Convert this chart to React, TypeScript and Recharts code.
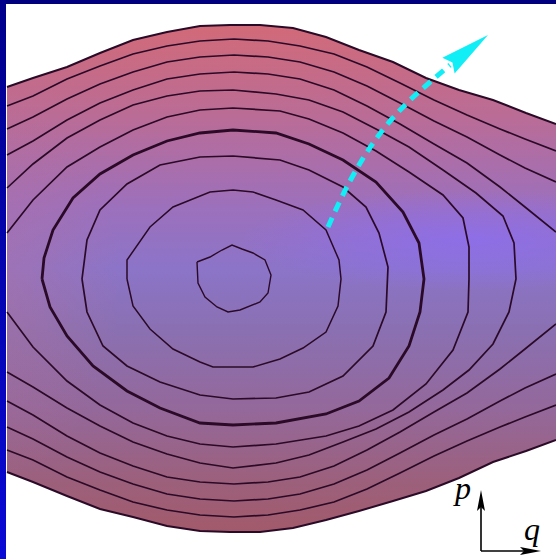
import { ComposedChart, Area, Line, Scatter, XAxis, YAxis } from 'recharts';

// phase-plane coordinates: q across, p up
const edgeQ = [-2.27, -2.01, -1.67, -1.34, -1.01, -0.67, -0.34, -0.04, 0.26, 0.59, 0.92, 1.25, 1.59, 1.92, 2.25, 2.59, 2.92, 3.22];
const edgeTop = [1.91, 2.0, 2.11, 2.25, 2.38, 2.46, 2.52, 2.53, 2.53, 2.5, 2.41, 2.28, 2.16, 2.0, 1.88, 1.78, 1.65, 1.54];
const edgeBottom = [-1.94, -2.04, -2.18, -2.31, -2.39, -2.48, -2.53, -2.54, -2.54, -2.5, -2.42, -2.33, -2.23, -2.13, -2.0, -1.84, -1.73, -1.62];

// outer orbits that leave through both sides
const openQ = [-2.27, -2.01, -1.67, -1.34, -1.01, -0.67, -0.34, 0, 0.34, 0.66, 1.0, 1.33, 1.66, 2.0, 2.33, 2.66, 2.91, 3.22];
const orbit2 = [1.72, 1.82, 1.99, 2.12, 2.24, 2.32, 2.37, 2.39, 2.37, 2.32, 2.24, 2.11, 1.95, 1.78, 1.63, 1.49, 1.39, 1.27];
const orbit3 = [1.49, 1.61, 1.79, 1.94, 2.06, 2.16, 2.21, 2.23, 2.21, 2.16, 2.06, 1.92, 1.75, 1.57, 1.41, 1.23, 1.1, 0.96];
const orbit4 = [1.23, 1.37, 1.58, 1.75, 1.88, 1.99, 2.04, 2.06, 2.04, 1.99, 1.88, 1.72, 1.54, 1.34, 1.15, 0.91, 0.71, 0.46];

// orbits cut by the left edge only
const orbit5 = [
  [-2.27, 0.9], [-2.01, 1.14], [-1.67, 1.4], [-1.34, 1.58], [-1.01, 1.73], [-0.67, 1.82], [-0.34, 1.87], [-0.01, 1.88],
  [0.42, 1.84], [0.75, 1.78], [1.09, 1.66], [1.42, 1.49], [1.75, 1.31], [2.09, 1.08], [2.42, 0.85], [2.69, 0.62],
  [2.8, 0.35], [2.82, -0.01], [2.75, -0.34], [2.59, -0.66], [2.35, -0.92], [2.09, -1.12], [1.75, -1.34], [1.42, -1.51],
  [1.09, -1.64], [0.75, -1.77], [0.42, -1.85], [-0.01, -1.9], [-0.34, -1.85], [-0.67, -1.76], [-1.01, -1.64],
  [-1.34, -1.48], [-1.67, -1.3], [-2.01, -1.09], [-2.27, -0.94],
];
const orbit6 = [
  [-2.27, 0.45], [-2.01, 0.78], [-1.67, 1.11], [-1.34, 1.31], [-1.01, 1.48], [-0.67, 1.61], [-0.34, 1.68], [-0.01, 1.7],
  [0.46, 1.67], [0.75, 1.59], [1.09, 1.45], [1.42, 1.27], [1.75, 1.06], [2.09, 0.83], [2.29, 0.6], [2.35, 0.31],
  [2.35, -0.01], [2.34, -0.34], [2.19, -0.72], [1.92, -1.06], [1.59, -1.32], [1.25, -1.48], [0.92, -1.58], [0.42, -1.66],
  [-0.01, -1.69], [-0.34, -1.66], [-0.67, -1.58], [-1.01, -1.45], [-1.34, -1.27], [-1.67, -1.03], [-2.01, -0.69], [-2.27, -0.34],
];

// closed orbits around the centre
const orbit7 = [
  [-1.92, -0.01], [-1.9, 0.2], [-1.81, 0.48], [-1.61, 0.8], [-1.34, 1.04], [-1.01, 1.23], [-0.67, 1.37], [-0.34, 1.45],
  [-0.01, 1.48], [0.42, 1.45], [0.75, 1.34], [1.09, 1.18], [1.42, 0.96], [1.69, 0.66], [1.85, 0.35], [1.9, -0.01],
  [1.86, -0.34], [1.75, -0.68], [1.55, -1.0], [1.25, -1.23], [0.92, -1.36], [0.42, -1.45], [-0.01, -1.47], [-0.34, -1.45],
  [-0.74, -1.3], [-1.07, -1.13], [-1.41, -0.88], [-1.67, -0.58], [-1.84, -0.29], [-1.92, -0.01],
];
const orbit8 = [
  [-1.52, -0.01], [-1.47, 0.38], [-1.34, 0.68], [-1.07, 0.94], [-0.74, 1.13], [-0.34, 1.21], [-0.01, 1.22], [0.46, 1.18],
  [0.75, 1.08], [1.09, 0.91], [1.32, 0.71], [1.45, 0.45], [1.54, 0.11], [1.52, -0.34], [1.39, -0.68], [1.09, -0.98],
  [0.75, -1.14], [0.42, -1.2], [-0.01, -1.21], [-0.34, -1.17], [-0.74, -1.04], [-1.07, -0.88], [-1.31, -0.68],
  [-1.47, -0.34], [-1.52, -0.01],
];
const orbit9 = [
  [-1.07, -0.01], [-1.01, -0.28], [-0.84, -0.51], [-0.61, -0.71], [-0.34, -0.84], [-0.21, -0.89], [0.19, -0.89],
  [0.46, -0.81], [0.69, -0.7], [0.92, -0.54], [1.04, -0.28], [1.07, -0.01], [1.05, 0.18], [0.92, 0.48], [0.69, 0.68],
  [0.42, 0.78], [0.19, 0.86], [-0.01, 0.88], [-0.24, 0.86], [-0.61, 0.71], [-0.84, 0.51], [-1.07, 0.18], [-1.07, -0.01],
];
const orbit10 = [
  [-0.37, 0.16], [-0.36, -0.05], [-0.29, -0.19], [-0.17, -0.29], [-0.06, -0.34], [0.06, -0.32], [0.26, -0.24],
  [0.34, -0.15], [0.37, 0.03], [0.31, 0.18], [0.19, 0.25], [0.08, 0.29], [-0.02, 0.33], [-0.12, 0.28], [-0.24, 0.21],
  [-0.37, 0.16],
];

// escape direction
const arrowPath = [
  [0.94, 0.51], [1.04, 0.73], [1.16, 0.97], [1.28, 1.18], [1.42, 1.39], [1.57, 1.58], [1.72, 1.74], [1.87, 1.88],
  [2.02, 2.01], [2.16, 2.13],
];
const arrowTip = [[2.54, 2.43]];

const pts = (a: number[][]) => a.map(([q, p]) => ({ q, p }));
const row = (ps: number[], sign = 1) => openQ.map((q, i) => ({ q, p: sign * ps[i] }));

const bandData = edgeQ.map((q, i) => ({ q, band: [edgeBottom[i], edgeTop[i]] }));
const topEdge = edgeQ.map((q, i) => ({ q, p: edgeTop[i] }));
const bottomEdge = edgeQ.map((q, i) => ({ q, p: edgeBottom[i] }));

const INK = '#2a0a26';

const ArrowHead = (props: any) => {
  const { cx, cy } = props;
  return (
    <polygon
      points="0,0 -50,-10 -45,0 -50,10"
      transform={`translate(${cx},${cy}) rotate(-37.8)`}
      fill="#12eef6"
    />
  );
};

const curves: { key: string; data: { q: number; p: number }[]; width: number }[] = [
  { key: 'edgeTop', data: topEdge, width: 2 },
  { key: 'edgeBottom', data: bottomEdge, width: 2 },
  { key: 'o2t', data: row(orbit2), width: 1.7 },
  { key: 'o2b', data: row(orbit2, -1), width: 1.7 },
  { key: 'o3t', data: row(orbit3), width: 1.7 },
  { key: 'o3b', data: row(orbit3, -1), width: 1.7 },
  { key: 'o4t', data: row(orbit4), width: 1.7 },
  { key: 'o4b', data: row(orbit4, -1), width: 1.7 },
  { key: 'o5', data: pts(orbit5), width: 1.7 },
  { key: 'o6', data: pts(orbit6), width: 1.7 },
  { key: 'o7', data: pts(orbit7), width: 2.8 },
  { key: 'o8', data: pts(orbit8), width: 1.7 },
  { key: 'o9', data: pts(orbit9), width: 1.5 },
  { key: 'o10', data: pts(orbit10), width: 1.4 },
];

export default function App() {
  return (
    <div style={{ position: 'absolute', left: 0, top: 0, width: 556, height: 559, background: '#fff', overflow: 'hidden' }}>
      <ComposedChart width={556} height={559} data={bandData} margin={{ top: 0, right: 0, bottom: 0, left: 0 }}>
        <defs>
          <linearGradient id="energy" x1="0" y1="0" x2="0" y2="1">
            <stop offset="0%" stopColor="#d26a78" />
            <stop offset="18%" stopColor="#ba6c96" />
            <stop offset="36%" stopColor="#9c70bc" />
            <stop offset="48%" stopColor="#8c74c8" />
            <stop offset="60%" stopColor="#8a70b2" />
            <stop offset="76%" stopColor="#94689a" />
            <stop offset="90%" stopColor="#9c607c" />
            <stop offset="100%" stopColor="#a25a6a" />
          </linearGradient>
          <radialGradient
            id="glow"
            gradientUnits="userSpaceOnUse"
            cx={470}
            cy={240}
            r={230}
            gradientTransform="translate(470 240) scale(1 0.22) translate(-470 -240)"
          >
            <stop offset="0%" stopColor="#8a6cff" stopOpacity={0.6} />
            <stop offset="55%" stopColor="#8a6cff" stopOpacity={0.3} />
            <stop offset="100%" stopColor="#8a6cff" stopOpacity={0} />
          </radialGradient>
          <radialGradient
            id="rim"
            gradientUnits="userSpaceOnUse"
            cx={0}
            cy={285}
            r={120}
            gradientTransform="translate(0 285) scale(1 1.6) translate(0 -285)"
          >
            <stop offset="0%" stopColor="#c27090" stopOpacity={0.35} />
            <stop offset="100%" stopColor="#c27090" stopOpacity={0} />
          </radialGradient>
        </defs>
        <XAxis type="number" dataKey="q" domain={[-2.34, 3.22]} allowDataOverflow hide />
        <YAxis type="number" dataKey="p" domain={[-2.81, 2.78]} allowDataOverflow hide />
        <Area dataKey="band" type="linear" stroke="none" fill="url(#energy)" fillOpacity={1} isAnimationActive={false} />
        <Area dataKey="band" type="linear" stroke="none" fill="url(#glow)" fillOpacity={1} isAnimationActive={false} />
        <Area dataKey="band" type="linear" stroke="none" fill="url(#rim)" fillOpacity={1} isAnimationActive={false} />
        {curves.map((c) => (
          <Line
            key={c.key}
            data={c.data}
            dataKey="p"
            type="linear"
            stroke={INK}
            strokeWidth={c.width}
            dot={false}
            activeDot={false}
            isAnimationActive={false}
          />
        ))}
        <Line
          data={pts(arrowPath)}
          dataKey="p"
          type="monotone"
          stroke="#12eef6"
          strokeWidth={5}
          strokeDasharray="10 7"
          dot={false}
          activeDot={false}
          isAnimationActive={false}
        />
        <Scatter data={pts(arrowTip)} dataKey="p" shape={ArrowHead} isAnimationActive={false} />
        <g>
          <line x1={481} y1={551} x2={481} y2={506} stroke="#000" strokeWidth={1.6} />
          <polygon points="481,490 485,511 481,507 477,511" fill="#000" />
          <line x1={481} y1={551} x2={526} y2={551} stroke="#000" strokeWidth={1.6} />
          <polygon points="541,551 520,555 524,551 520,547" fill="#000" />
          <text x={455} y={499} fontFamily="'Liberation Serif', serif" fontStyle="italic" fontSize={32} fill="#000">
            p
          </text>
          <text x={524} y={540} fontFamily="'Liberation Serif', serif" fontStyle="italic" fontSize={32} fill="#000">
            q
          </text>
        </g>
      </ComposedChart>
      <div style={{ position: 'absolute', left: 0, top: 0, width: 556, height: 4, background: '#00007e' }} />
      <div style={{ position: 'absolute', left: 0, top: 0, width: 6, height: 559, background: 'linear-gradient(#00008c, #0a0ad6)' }} />
    </div>
  );
}
